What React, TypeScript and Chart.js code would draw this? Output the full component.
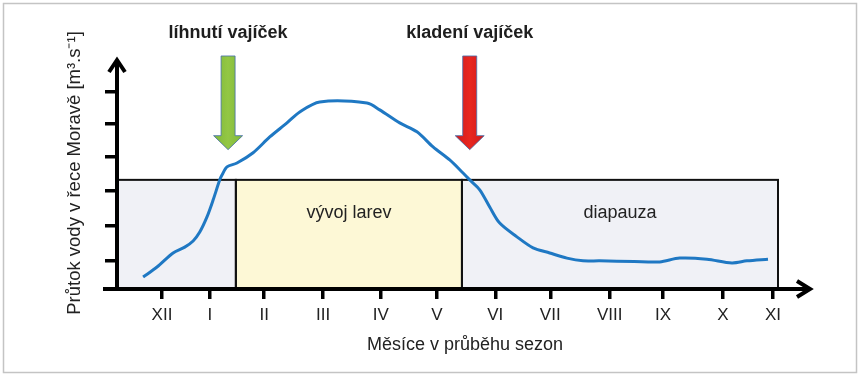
import React, { useEffect, useRef } from 'react';
import { Chart, registerables } from 'chart.js';

Chart.register(...registerables);

// ---- data ----
const monthLabels = ['XII', 'I', 'II', 'III', 'IV', 'V', 'VI', 'VII', 'VIII', 'IX', 'X', 'XI'];
const monthTickValues = [0, 0.86, 1.84, 2.9, 3.94, 4.95, 6.0, 6.99, 8.06, 9.02, 10.1, 11.0];
const yTickValues = [0.82, 1.84, 2.86, 3.85, 4.81, 5.74];

const flowX = [-0.34, -0.09, 0.2, 0.41, 0.56, 0.68, 0.81, 0.92, 1.04, 1.08, 1.17, 1.35, 1.64, 1.94, 2.25, 2.48, 2.84, 3.69, 3.92, 4.28, 4.59, 4.88, 5.18, 5.42, 5.54, 5.72, 5.9, 6.08, 6.39, 6.68, 6.98, 7.29, 7.58, 7.88, 8.5, 8.96, 9.32, 9.81, 10.26, 10.53, 10.91];
const flowY = [0.35, 0.64, 1.05, 1.22, 1.4, 1.66, 2.1, 2.59, 3.18, 3.32, 3.56, 3.67, 3.97, 4.43, 4.84, 5.16, 5.45, 5.42, 5.22, 4.84, 4.58, 4.14, 3.76, 3.38, 3.18, 2.89, 2.39, 1.92, 1.52, 1.2, 1.05, 0.9, 0.82, 0.82, 0.8, 0.79, 0.9, 0.87, 0.76, 0.82, 0.87];

const phaseStarts = [-0.81, 1.33, 5.4];
const phaseEnds = [1.33, 5.4, 11.09];
const phaseLabels = ['', 'vývoj larev', 'diapauza'];
const phaseColors = ['#f0f1f6', '#fdf8d6', '#f0f1f6'];
const phaseTop = 3.18;

const eventLabels = ['líhnutí vajíček', 'kladení vajíček'];
const eventX = [1.19, 5.54];
const eventColorsDark = ['#7fb83a', '#d01a1c'];
const eventColorsLight = ['#93c744', '#e8261f'];
const arrowTopValue = 6.79;
const arrowTipValue = 4.06;

const xMin = -0.81;
const xMax = 11.72;
const yMin = 0;
const yMax = 6.76;

const FONT = "'Liberation Sans', Arial, sans-serif";

const decorPlugin = {
  id: 'decor',
  beforeDraw(chart: any) {
    const { ctx, width, height } = chart;
    ctx.save();
    ctx.fillStyle = '#ffffff';
    ctx.fillRect(0, 0, width, height);
    ctx.strokeStyle = '#c4c4c4';
    ctx.lineWidth = 1.5;
    ctx.strokeRect(3.5, 3.5, width - 7, height - 7);
    ctx.restore();
  },
  beforeDatasetsDraw(chart: any) {
    const { ctx } = chart;
    const xs = chart.scales.x;
    const ys = chart.scales.y;
    const top = ys.getPixelForValue(phaseTop);
    const bottom = ys.getPixelForValue(yMin);
    ctx.save();
    for (let i = 0; i < phaseStarts.length; i++) {
      const l = xs.getPixelForValue(phaseStarts[i]);
      const r = xs.getPixelForValue(phaseEnds[i]);
      ctx.fillStyle = phaseColors[i];
      ctx.fillRect(l, top, r - l, bottom - top);
    }
    for (let i = 0; i < phaseStarts.length; i++) {
      const l = xs.getPixelForValue(phaseStarts[i]);
      const r = xs.getPixelForValue(phaseEnds[i]);
      ctx.strokeStyle = '#111';
      ctx.lineWidth = 2;
      ctx.strokeRect(l, top, r - l, bottom - top);
      if (phaseLabels[i]) {
        ctx.fillStyle = '#222';
        ctx.font = `18px ${FONT}`;
        ctx.textAlign = 'center';
        ctx.textBaseline = 'middle';
        ctx.fillText(phaseLabels[i], (l + r) / 2, top + 33);
      }
    }
    ctx.restore();
  },
  afterDraw(chart: any) {
    const { ctx, chartArea } = chart;
    const { left: L, right: R, top: T, bottom: B } = chartArea;
    ctx.save();
    // axes
    ctx.strokeStyle = '#000';
    ctx.lineWidth = 4;
    ctx.lineCap = 'butt';
    ctx.beginPath();
    ctx.moveTo(L, B + 2);
    ctx.lineTo(L, T + 3);
    ctx.moveTo(L - 14, B);
    ctx.lineTo(R - 3, B);
    ctx.stroke();
    ctx.lineJoin = 'miter';
    ctx.beginPath();
    ctx.moveTo(L - 8, T + 15);
    ctx.lineTo(L, T + 3);
    ctx.lineTo(L + 8, T + 15);
    ctx.stroke();
    ctx.beginPath();
    ctx.moveTo(R - 16, B - 8);
    ctx.lineTo(R - 3, B);
    ctx.lineTo(R - 16, B + 8);
    ctx.stroke();

    // event arrows
    const xs = chart.scales.x;
    const ys = chart.scales.y;
    const atop = ys.getPixelForValue(arrowTopValue);
    const tip = ys.getPixelForValue(arrowTipValue);
    const sh = 7;
    const hh = 14.5;
    const hl = 14;
    for (let i = 0; i < eventX.length; i++) {
      const cx = xs.getPixelForValue(eventX[i]);
      const g = ctx.createLinearGradient(cx - hh, 0, cx + hh, 0);
      g.addColorStop(0, eventColorsDark[i]);
      g.addColorStop(0.5, eventColorsLight[i]);
      g.addColorStop(1, eventColorsDark[i]);
      ctx.beginPath();
      ctx.moveTo(cx - sh, atop);
      ctx.lineTo(cx + sh, atop);
      ctx.lineTo(cx + sh, tip - hl);
      ctx.lineTo(cx + hh, tip - hl);
      ctx.lineTo(cx, tip);
      ctx.lineTo(cx - hh, tip - hl);
      ctx.lineTo(cx - sh, tip - hl);
      ctx.closePath();
      ctx.fillStyle = g;
      ctx.fill();
      ctx.strokeStyle = 'rgba(70,110,170,0.8)';
      ctx.lineWidth = 1;
      ctx.stroke();
      ctx.fillStyle = '#1e1e1e';
      ctx.font = `bold 18px ${FONT}`;
      ctx.textAlign = 'center';
      ctx.textBaseline = 'middle';
      ctx.fillText(eventLabels[i], cx, atop - 23);
    }
    ctx.restore();
  },
};

export default function App() {
  const ref = useRef<HTMLCanvasElement | null>(null);
  useEffect(() => {
    document.body.style.margin = '0';
    const canvas = ref.current;
    if (!canvas) return;
    const chart = new Chart(canvas, {
      type: 'line',
      data: {
        datasets: [
          {
            data: flowX.map((x, i) => ({ x, y: flowY[i] })),
            borderColor: '#1f78c3',
            borderWidth: 3,
            pointRadius: 0,
            tension: 0.3,
            fill: false,
          },
        ],
      },
      options: {
        animation: false,
        responsive: false,
        events: [],
        layout: { padding: { top: 57, right: 47, left: 0, bottom: 0 } },
        plugins: { legend: { display: false }, tooltip: { enabled: false } },
        scales: {
          x: {
            type: 'linear',
            min: xMin,
            max: xMax,
            border: { display: false },
            grid: { drawOnChartArea: false, drawTicks: true, tickLength: 10, color: '#000', lineWidth: 3.5 },
            afterBuildTicks: (s: any) => {
              s.ticks = monthTickValues.map((v) => ({ value: v }));
            },
            afterFit: (s: any) => {
              s.height = 87;
            },
            ticks: {
              autoSkip: false,
              maxRotation: 0,
              padding: 6,
              color: '#222',
              font: { family: FONT, size: 17 },
              callback: (_v: any, i: number) => monthLabels[i],
            },
            title: {
              display: true,
              text: 'Měsíce v průběhu sezon',
              color: '#222',
              font: { family: FONT, size: 18 },
              padding: { top: 0, bottom: 20 },
            },
          },
          y: {
            type: 'linear',
            min: yMin,
            max: yMax,
            border: { display: false },
            grid: { drawOnChartArea: false, drawTicks: true, tickLength: 12, color: '#000', lineWidth: 3.5 },
            afterBuildTicks: (s: any) => {
              s.ticks = yTickValues.map((v) => ({ value: v }));
            },
            afterFit: (s: any) => {
              s.width = 117;
            },
            ticks: { display: false },
            title: {
              display: true,
              text: 'Průtok vody v řece Moravě [m³.s⁻¹]',
              color: '#222',
              font: { family: FONT, size: 18.5 },
              padding: { top: 64, bottom: 0 },
            },
          },
        },
      },
      plugins: [decorPlugin],
    });
    return () => chart.destroy();
  }, []);
  return (
    <div style={{ width: 860, height: 376 }}>
      <canvas ref={ref} width={860} height={376} style={{ display: 'block' }} />
    </div>
  );
}
